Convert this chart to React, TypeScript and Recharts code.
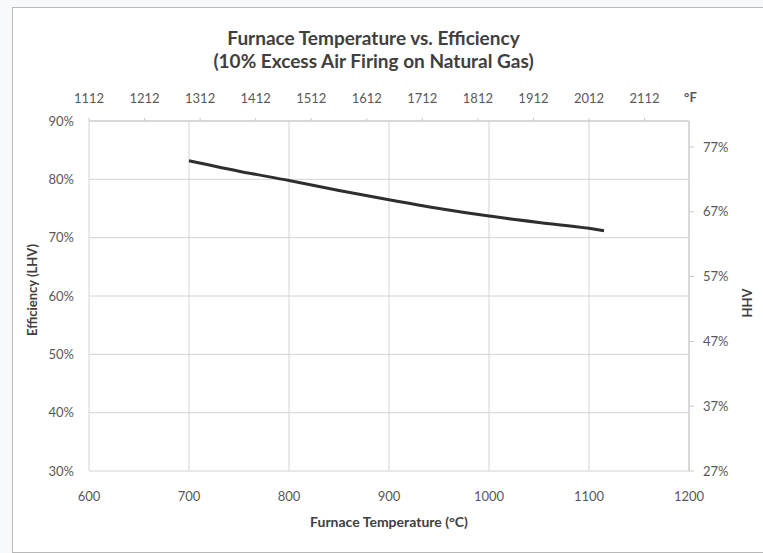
import { LineChart, Line, XAxis, YAxis, CartesianGrid } from "recharts";

// furnace temperature (°C) and efficiency on LHV basis (%)
const tempC = [700, 750, 800, 850, 900, 950, 1000, 1050, 1100, 1115];
const lhv = [83.2, 81.4, 79.8, 78.1, 76.5, 75.0, 73.7, 72.6, 71.6, 71.2];

const cTicks = [600, 700, 800, 900, 1000, 1100, 1200];
const fTicks = [1112, 1212, 1312, 1412, 1512, 1612, 1712, 1812, 1912, 2012, 2112];
const lhvTicks = [30, 40, 50, 60, 70, 80, 90];
const hhvTicks = [27, 37, 47, 57, 67, 77];

// secondary scales: °F on top, HHV (= 0.9 x LHV) on the right
const toC = (f: number) => ((f - 32) * 5) / 9;
const toF = (c: number) => Math.round((c * 9) / 5 + 32);
const HHV_RATIO = 0.9;

const data = tempC.map((c, i) => ({ c, lhv: lhv[i] }));

const FONT = "Lato, 'Open Sans', sans-serif";
const tick = { fill: "#595959", fontSize: 13, fontFamily: FONT };
const pct = (v: number) => `${v}%`;

export default function App() {
  return (
    <div
      style={{
        position: "absolute",
        left: 0,
        top: 0,
        width: 763,
        height: 553,
        background: "#f8f9fa",
        fontFamily: FONT,
        overflow: "hidden",
      }}
    >
      <div
        style={{
          position: "absolute",
          left: 12,
          top: 7,
          width: 760,
          height: 544,
          background: "#fff",
          border: "1px solid #b8b8b8",
        }}
      />
      <div
        style={{
          position: "absolute",
          left: 0,
          top: 26,
          width: 747,
          textAlign: "center",
          fontSize: 19,
          fontWeight: 700,
          lineHeight: "23px",
          color: "#404040",
        }}
      >
        Furnace Temperature vs. Efficiency
        <br />
        (10% Excess Air Firing on Natural Gas)
      </div>
      <div style={{ position: "absolute", left: 0, top: 0 }}>
        <LineChart
          width={763}
          height={553}
          data={data}
          margin={{ top: 91, right: 14, bottom: 52, left: 29 }}
        >
          <CartesianGrid stroke="#d4d4d4" />
          <XAxis
            dataKey="c"
            type="number"
            domain={[600, 1200]}
            ticks={cTicks}
            tick={tick}
            tickLine={false}
            axisLine={false}
            tickSize={12}
            tickMargin={9}
            height={30}
          />
          <XAxis
            xAxisId="f"
            dataKey="c"
            orientation="top"
            type="number"
            domain={[600, 1200]}
            ticks={fTicks.map(toC)}
            tickFormatter={toF}
            tick={tick}
            stroke="#c8c8c8"
            tickSize={3}
            tickMargin={15}
            height={30}
          />
          <YAxis
            type="number"
            domain={[30, 90]}
            ticks={lhvTicks}
            tickFormatter={pct}
            tick={tick}
            tickLine={false}
            axisLine={false}
            tickSize={6}
            tickMargin={9}
            width={60}
          />
          <YAxis
            yAxisId="hhv"
            orientation="right"
            type="number"
            domain={[30, 90]}
            ticks={hhvTicks.map((h) => h / HHV_RATIO)}
            tickFormatter={(v: number) => pct(Math.round(v * HHV_RATIO))}
            tick={tick}
            stroke="#c8c8c8"
            tickSize={5}
            tickMargin={9}
            width={60}
          />
          <Line
            xAxisId="f"
            yAxisId="hhv"
            dataKey="lhv"
            type="monotone"
            stroke="none"
            dot={false}
            isAnimationActive={false}
          />
          <Line
            dataKey="lhv"
            type="monotone"
            stroke="#2e2e2e"
            strokeWidth={3}
            dot={false}
            isAnimationActive={false}
          />
        </LineChart>
      </div>
      <div
        style={{
          position: "absolute",
          left: 684,
          top: 89,
          fontSize: 13,
          fontWeight: 700,
          color: "#595959",
        }}
      >
        °F
      </div>
      <div
        style={{
          position: "absolute",
          left: 239,
          top: 513,
          width: 300,
          textAlign: "center",
          fontSize: 14,
          fontWeight: 700,
          color: "#404040",
        }}
      >
        Furnace Temperature (°C)
      </div>
      <div
        style={{
          position: "absolute",
          left: 32,
          top: 290,
          transform: "translate(-50%, -50%) rotate(-90deg)",
          whiteSpace: "nowrap",
          fontSize: 13,
          fontWeight: 700,
          color: "#404040",
        }}
      >
        Efficiency (LHV)
      </div>
      <div
        style={{
          position: "absolute",
          left: 747,
          top: 303,
          transform: "translate(-50%, -50%) rotate(-90deg)",
          whiteSpace: "nowrap",
          fontSize: 13,
          fontWeight: 700,
          color: "#404040",
        }}
      >
        HHV
      </div>
    </div>
  );
}
